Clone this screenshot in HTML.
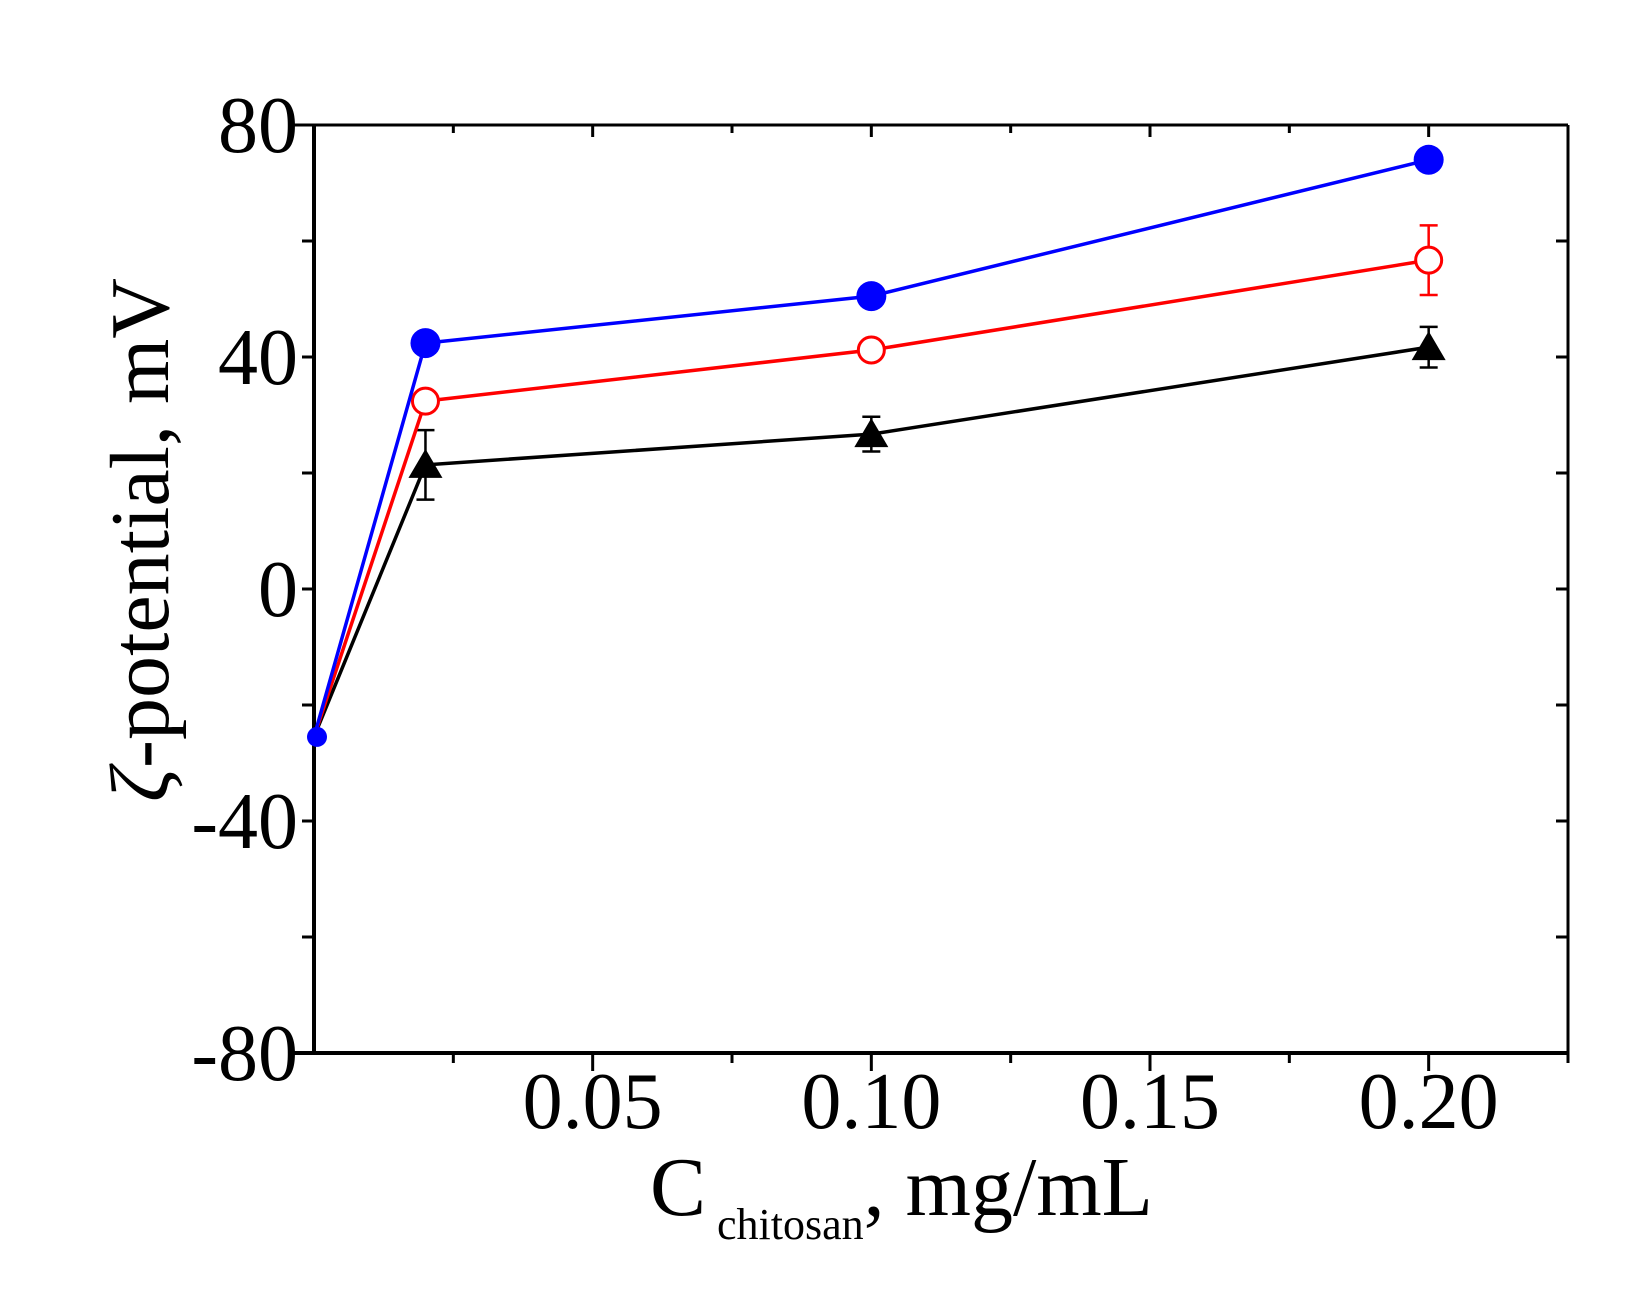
<!DOCTYPE html>
<html><head><meta charset="utf-8"><style>
html,body{margin:0;padding:0;background:#fff;}
svg{display:block;font-family:"Liberation Serif",serif;}
</style></head><body>
<svg id="chart" width="1631" height="1304" viewBox="0 0 1631 1304" xmlns="http://www.w3.org/2000/svg">
<g id="axes"></g>
<g id="series"></g>
<text transform="translate(168,540) rotate(-90)" text-anchor="middle" font-size="84" fill="#000"><tspan font-style="italic">ζ</tspan>-potential, mV</text>
<text x="650" y="1215" font-size="84" fill="#000">C<tspan font-size="44" dy="24"> chitosan</tspan><tspan dy="-24">, mg/mL</tspan></text>
</svg>
<script>
const xTicks=[0.05,0.10,0.15,0.20];
const xTickLabels=["0.05","0.10","0.15","0.20"];
const yTicks=[-80,-40,0,40,80];
const yTickLabels=["-80","-40","0","40","80"];
const xValues=[0,0.02,0.10,0.20];
const blueValues=[-25.5,42.4,50.5,74];
const redValues=[-25.5,32.4,41.2,56.7];
const redErr=[0,1,0,6];
const blackValues=[-25.5,21.4,26.7,41.7];
const blackErr=[0,6,3,3.5];

const L=314,R=1568,T=125,B=1053;
const X=v=>L+(v/0.225)*(R-L);
const Y=v=>T+(80-v)/160*(B-T);
const NS="http://www.w3.org/2000/svg";
function mk(p,tag,a){const e=document.createElementNS(NS,tag);for(const k in a)e.setAttribute(k,a[k]);p.appendChild(e);return e;}
const ax=document.getElementById('axes');
let e;
e=mk(ax,'line',{x1:L,y1:T,x2:L,y2:B,stroke:'#000','stroke-width':4});


e=mk(ax,'line',{x1:R,y1:T,x2:R,y2:B,stroke:'#000','stroke-width':3});


e=mk(ax,'line',{x1:L-20,y1:T,x2:R,y2:T,stroke:'#000','stroke-width':3});


e=mk(ax,'line',{x1:L-20,y1:B,x2:R,y2:B,stroke:'#000','stroke-width':4});


for(let v=0.025;v<0.2251;v+=0.025){
  const major=Math.abs((v/0.05)-Math.round(v/0.05))<1e-6;
  e=mk(ax,'line',{x1:X(v),y1:B,x2:X(v),y2:B+(major?18:10),stroke:'#000','stroke-width':3});
  
  
  e=mk(ax,'line',{x1:X(v),y1:T,x2:X(v),y2:T+(major?12:8),stroke:'#000','stroke-width':3});
  
  
}
xTicks.forEach((v,i)=>{
  e=mk(ax,'text',{x:X(v),y:1128,'text-anchor':'middle','font-size':80,fill:'#000'});
  e.textContent=xTickLabels[i];
  
  
});
for(let v=-60;v<80;v+=20){
  e=mk(ax,'line',{x1:L-12,y1:Y(v),x2:L,y2:Y(v),stroke:'#000','stroke-width':3});
  
  
  e=mk(ax,'line',{x1:R-12,y1:Y(v),x2:R,y2:Y(v),stroke:'#000','stroke-width':3});
  
  
}
yTicks.forEach((v,i)=>{
  e=mk(ax,'text',{x:L-16,y:Y(v)+27,'text-anchor':'end','font-size':80,fill:'#000'});
  e.textContent=yTickLabels[i];
  
  
});
const sg=document.getElementById('series');
function series(vals,err,color,marker,name){
  const g=mk(sg,'g',{});
  
  
  e=mk(g,'polyline',{points:vals.map((v,i)=>X(xValues[i])+','+Y(v)).join(' '),fill:'none',stroke:color,'stroke-width':3.5});
  
  
  vals.forEach((v,i)=>{
    const cx=X(xValues[i]),cy=Y(v);
    if(err&&err[i]>0){
      e=mk(g,'path',{d:`M${cx},${Y(v+err[i])}V${Y(v-err[i])}M${cx-9},${Y(v+err[i])}h18M${cx-9},${Y(v-err[i])}h18`,stroke:color,'stroke-width':2.5,fill:'none'});
      
      
    }
    if(i===0)return;
    if(marker==='filled')e=mk(g,'circle',{cx,cy,r:15,fill:color});
    else if(marker==='open')e=mk(g,'circle',{cx,cy,r:13,fill:'#fff',stroke:color,'stroke-width':3});
    else e=mk(g,'path',{d:`M${cx},${cy-16}L${cx+17},${cy+13}L${cx-17},${cy+13}Z`,fill:color});
    
    
  });
}
series(blackValues,blackErr,'#000','tri','black-series');
series(redValues,redErr,'#ff0000','open','red-series');
series(blueValues,null,'#0000ff','filled','blue-series');
e=mk(sg,'circle',{cx:X(xValues[0])+3,cy:Y(blueValues[0]),r:10,fill:'#0000ff'});


</script>
</body></html>
